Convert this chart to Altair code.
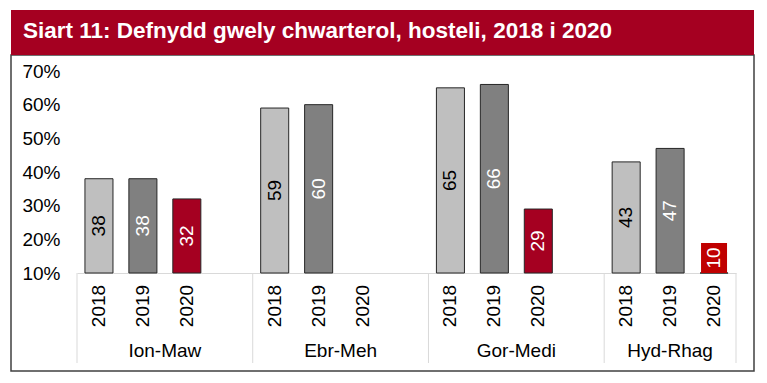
import altair as alt
import pandas as pd

title_text = "Siart 11: Defnydd gwely chwarterol, hosteli, 2018 i 2020"
quarters = ["Ion-Maw", "Ebr-Meh", "Gor-Medi", "Hyd-Rhag"]
years = ["2018", "2019", "2020"]
v2018 = [38, 59, 65, 43]
v2019 = [38, 60, 66, 47]
v2020 = [32, None, 29, 10]
y_ticks = [10, 20, 30, 40, 50, 60, 70]

year_colors = ["#bfbfbf", "#808080", "#a50021"]
label_colors = ["#000000", "#ffffff", "#ffffff"]
FONT = "Liberation Sans"

rows = []
for gi, q in enumerate(quarters):
    for yi, (yr, vals) in enumerate(zip(years, [v2018, v2019, v2020])):
        v = vals[gi]
        rows.append(dict(quarter=q, year=yr, slot=gi * 4 + yi, value=v,
                         label="" if v is None else str(v)))
df = pd.DataFrame(rows)

# group boundaries (slot units) and centres
bounds = [-0.5, 3.5, 7.5, 11.5, 14.5]
sep_df = pd.DataFrame({"b": bounds})
grp_df = pd.DataFrame({"quarter": quarters,
                       "gc": [(bounds[i] + bounds[i + 1]) / 2 for i in range(4)]})

xscale = alt.Scale(domain=[-0.5, 14.5], nice=False, zero=False)
yscale = alt.Scale(domain=[10, 70], nice=False, zero=False)
xaxis = alt.Axis(labels=False, ticks=False, grid=False, title=None,
                 domainColor="#d9d9d9", domainWidth=1)
yaxis = alt.Axis(values=y_ticks, labelExpr="datum.value + '%'", domain=False,
                 ticks=False, grid=False, title=None, labelPadding=17,
                 labelFontSize=19, labelFont=FONT, labelColor="#000000")
colscale = alt.Scale(domain=years, range=year_colors)
txtscale = alt.Scale(domain=years, range=label_colors)

one = pd.DataFrame({"a": [0]})

frame = alt.Chart(one).mark_rect(fillOpacity=0, stroke="#404040", strokeWidth=1.5).encode(
    x=alt.value(-66), x2=alt.value(677), y=alt.value(-16), y2=alt.value(300))
band = alt.Chart(one).mark_rect(color="#a50021").encode(
    x=alt.value(-66), x2=alt.value(677), y=alt.value(-61), y2=alt.value(-16))
title = alt.Chart(one).mark_text(text=title_text, font=FONT, fontSize=22.5, fontWeight="bold",
                                 color="white", align="left", baseline="alphabetic").encode(
    x=alt.value(-54), y=alt.value(-33))

valid = alt.Chart(df).transform_filter("isValid(datum.value) && isFinite(datum.value)")

bars = valid.transform_calculate(lo="datum.slot - 0.319", hi="datum.slot + 0.319").mark_bar(
    stroke="#262626", strokeWidth=1).encode(
    x=alt.X("lo:Q", scale=xscale, axis=xaxis), x2="hi:Q",
    y=alt.Y("value:Q", scale=yscale, axis=yaxis), y2=alt.datum(10),
    fill=alt.Fill("year:N", scale=colscale, legend=None))

labels = valid.transform_filter("datum.value - 10 >= 5").transform_calculate(
    mid="(datum.value + 10) / 2").mark_text(
    angle=270, font=FONT, fontSize=19, align="center", baseline="middle").encode(
    x=alt.X("slot:Q", scale=xscale, axis=xaxis),
    y=alt.Y("mid:Q", scale=yscale, axis=yaxis),
    text="label:N",
    color=alt.Color("year:N", scale=txtscale, legend=None))

box = valid.transform_filter("datum.value - 10 < 5").transform_calculate(
    lo="datum.slot - 0.296", hi="datum.slot + 0.296").mark_rect(
    color="#c00000", y2Offset=-30).encode(
    x=alt.X("lo:Q", scale=xscale, axis=xaxis), x2="hi:Q",
    y=alt.Y("value:Q", scale=yscale, axis=yaxis), y2="value:Q")

box_labels = valid.transform_filter("datum.value - 10 < 5").mark_text(
    angle=270, font=FONT, fontSize=19, align="center", baseline="middle",
    yOffset=-15, color="white").encode(
    x=alt.X("slot:Q", scale=xscale, axis=xaxis),
    y=alt.Y("value:Q", scale=yscale, axis=yaxis),
    text="label:N")

seps = alt.Chart(sep_df).mark_rule(color="#d9d9d9", strokeWidth=1).encode(
    x=alt.X("b:Q", scale=xscale, axis=xaxis), y=alt.value(202), y2=alt.value(292))

year_labels = alt.Chart(df).mark_text(angle=270, font=FONT, fontSize=19, align="center",
                                      baseline="middle", color="#000000").encode(
    x=alt.X("slot:Q", scale=xscale, axis=xaxis), y=alt.value(235), text="year:N")

grp_labels = alt.Chart(grp_df).mark_text(font=FONT, fontSize=19, align="center",
                                         baseline="alphabetic", color="#000000").encode(
    x=alt.X("gc:Q", scale=xscale, axis=xaxis), y=alt.value(286), text="quarter:N")

chart = alt.layer(frame, band, title, bars, box, labels, box_labels, seps,
                  year_labels, grp_labels).properties(
    width=659, height=202,
    autosize=alt.AutoSizeParams(type="none"),
    padding={"left": 69, "top": 63, "right": 23, "bottom": 102},
    background="white",
).configure_view(stroke=None)

chart.save("out.html", embed_options={"renderer": "svg", "actions": False})
